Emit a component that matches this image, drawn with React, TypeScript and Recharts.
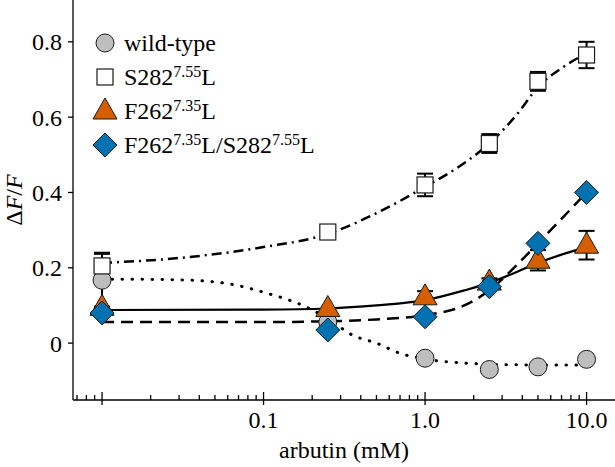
import React from 'react';
import { ComposedChart, Line, Scatter, XAxis, YAxis, ErrorBar, Legend } from 'recharts';

// measured points (arbutin dose, mM)
const doses = [0.01, 0.25, 1, 2.5, 5, 10];
const wildType = [0.167, 0.056, -0.04, -0.07, -0.063, -0.043];
const wildTypeErr = [0.07, 0, 0, 0, 0, 0];
const s282 = [0.205, 0.295, 0.42, 0.53, 0.695, 0.765];
const s282Err = [0.035, 0, 0.03, 0.025, 0.025, 0.035];
const f262 = [0.095, 0.092, 0.123, 0.162, 0.22, 0.26];
const f262Err = [0, 0, 0.015, 0.01, 0.027, 0.038];
const doubleMut = [0.08, 0.035, 0.07, 0.15, 0.265, 0.4];
const doubleMutErr = [0, 0, 0, 0, 0, 0];

// fitted curves
const wildTypeFitX = [0.01, 0.03, 0.06, 0.1, 0.19, 0.25, 0.36, 0.5, 0.7, 1, 1.75, 2.5, 5, 10];
const wildTypeFitY = [0.17, 0.168, 0.158, 0.135, 0.093, 0.065, 0.02, 0, -0.027, -0.042, -0.053, -0.056, -0.058, -0.058];
const s282FitX = [0.01, 0.03, 0.1, 0.25, 0.5, 1, 1.75, 2.5, 3.75, 5, 7, 10];
const s282FitY = [0.213, 0.226, 0.255, 0.29, 0.345, 0.415, 0.478, 0.53, 0.61, 0.68, 0.73, 0.77];
const f262FitX = [0.01, 0.1, 0.25, 0.5, 1, 1.75, 2.5, 3.75, 5, 7, 10];
const f262FitY = [0.088, 0.089, 0.092, 0.1, 0.114, 0.14, 0.16, 0.19, 0.213, 0.235, 0.255];
const doubleFitX = [0.01, 0.1, 0.25, 0.5, 1, 1.75, 2.5, 3.75, 5, 7, 10];
const doubleFitY = [0.056, 0.056, 0.058, 0.063, 0.074, 0.1, 0.14, 0.21, 0.265, 0.33, 0.4];

const majorTicks = [0.01, 0.1, 1, 10];
const majorTickLabels = ['', '0.1', '1.0', '10.0'];
const minorTicks = [
  0.007, 0.008, 0.009,
  0.02, 0.03, 0.04, 0.05, 0.06, 0.07, 0.08, 0.09,
  0.2, 0.3, 0.4, 0.5, 0.6, 0.7, 0.8, 0.9,
  2, 3, 4, 5, 6, 7, 8, 9,
];
const yTicks = [0, 0.2, 0.4, 0.6, 0.8];
const yTickLabels = ['0', '0.2', '0.4', '0.6', '0.8'];

const seriesLabels = [
  { parts: [['wild-type', '']] },
  { parts: [['S282', '7.55'], ['L', '']] },
  { parts: [['F262', '7.35'], ['L', '']] },
  { parts: [['F262', '7.35'], ['L/S282', '7.55'], ['L', '']] },
];

const FONT = '"Liberation Serif", "DejaVu Serif", serif';
const FS = 24;
const ORANGE = '#D55E00';
const BLUE = '#0072B2';
const GREY = '#BEBEBE';
const EDGE = '#1a1a1a';

const pts = (xs: number[], ys: number[], es?: number[]) =>
  xs.map((x, i) => ({ x, y: ys[i], err: es ? es[i] : 0 }));

const CircleMark = ({ cx, cy }: any) => (
  <circle cx={cx} cy={cy} r={9} fill={GREY} stroke={EDGE} strokeWidth={1} />
);
const SquareMark = ({ cx, cy }: any) => (
  <rect x={cx - 8} y={cy - 8} width={16} height={16} fill="#fff" stroke={EDGE} strokeWidth={1.2} />
);
const TriangleMark = ({ cx, cy }: any) => (
  <polygon
    points={`${cx},${cy - 13} ${cx - 12},${cy + 8} ${cx + 12},${cy + 8}`}
    fill={ORANGE}
    stroke={EDGE}
    strokeWidth={1}
  />
);
const DiamondMark = ({ cx, cy }: any) => (
  <polygon
    points={`${cx},${cy - 12} ${cx + 12},${cy} ${cx},${cy + 12} ${cx - 12},${cy}`}
    fill={BLUE}
    stroke={EDGE}
    strokeWidth={1}
  />
);

const markers = [CircleMark, SquareMark, TriangleMark, DiamondMark];

const XTick = (props: any) => {
  const { x, y, payload } = props;
  const idx = majorTicks.indexOf(payload.value);
  const major = idx >= 0;
  return (
    <g>
      <line x1={x} x2={x} y1={major ? y - 8 : y - 5} y2={major ? y + 5 : y} stroke="#000" strokeWidth={1.3} />
      {major && majorTickLabels[idx] && (
        <text x={x} y={y + 28} textAnchor="middle" fontFamily={FONT} fontSize={FS} fill="#000">
          {majorTickLabels[idx]}
        </text>
      )}
    </g>
  );
};

const YLabel = (props: any) => {
  const vb = props.viewBox || { x: 0, y: 0, width: 73, height: 400 };
  const cy = vb.y + vb.height / 2;
  return (
    <text x={22} y={cy} transform={`rotate(-90 22 ${cy})`} textAnchor="middle" fontFamily={FONT} fontSize={FS} fill="#000">
      <tspan>Δ</tspan>
      <tspan fontStyle="italic">F</tspan>
      <tspan>/</tspan>
      <tspan fontStyle="italic">F</tspan>
    </text>
  );
};

const XLabel = (props: any) => {
  const vb = props.viewBox || { x: 73, y: 400, width: 542, height: 67 };
  return (
    <text x={vb.x + vb.width / 2} y={458} textAnchor="middle" fontFamily={FONT} fontSize={FS} fill="#000">
      arbutin (mM)
    </text>
  );
};

const LegendBox = () => (
  <div style={{ position: 'absolute', left: 92, top: 26, fontFamily: FONT, fontSize: FS, color: '#000' }}>
    {seriesLabels.map((s, i) => {
      const Mark = markers[i];
      return (
        <div key={i} style={{ display: 'flex', alignItems: 'center', height: 34, whiteSpace: 'nowrap' }}>
          <svg width={26} height={30} style={{ marginRight: 6 }}>
            <Mark cx={13} cy={15} />
          </svg>
          <span>
            {s.parts.map(([base, sup], j) => (
              <React.Fragment key={j}>
                {base}
                {sup && <span style={{ fontSize: 16, position: 'relative', top: -8 }}>{sup}</span>}
              </React.Fragment>
            ))}
          </span>
        </div>
      );
    })}
  </div>
);

export default function App() {
  return (
    <div style={{ position: 'absolute', left: 0, top: 0, background: '#fff' }}>
      <ComposedChart width={615} height={467} margin={{ top: 0, right: 0, bottom: 0, left: 0 }}>
        <XAxis
          dataKey="x"
          type="number"
          scale="log"
          domain={[0.00661, 15]}
          allowDataOverflow
          ticks={[...minorTicks, ...majorTicks]}
          interval={0}
          tick={<XTick />}
          tickLine={false}
          tickSize={0}
          tickMargin={0}
          height={67}
          axisLine={{ stroke: '#000', strokeWidth: 1.3 }}
          label={<XLabel />}
        />
        <YAxis
          type="number"
          domain={[-0.151, 0.911]}
          allowDataOverflow
          ticks={yTicks}
          interval={0}
          width={73}
          tickSize={5}
          tickMargin={6}
          tickFormatter={(v: number) => yTickLabels[yTicks.indexOf(v)]}
          tick={{ fontFamily: FONT, fontSize: FS, fill: '#000' }}
          tickLine={{ stroke: '#000', strokeWidth: 1.3 }}
          axisLine={{ stroke: '#000', strokeWidth: 1.3 }}
          label={<YLabel />}
        />
        <Legend
          layout="vertical"
          align="center"
          verticalAlign="middle"
          content={() => <LegendBox />}
          wrapperStyle={{ left: 0, top: 0, width: 615, height: 0 }}
        />
        <Line data={pts(wildTypeFitX, wildTypeFitY)} dataKey="y" type="monotone" dot={false} stroke="#000" strokeWidth={3} strokeDasharray="0.5 9.5" strokeLinecap="round" isAnimationActive={false} legendType="none" />
        <Line data={pts(s282FitX, s282FitY)} dataKey="y" type="monotone" dot={false} stroke="#000" strokeWidth={2.5} strokeDasharray="10 5 2 5" isAnimationActive={false} legendType="none" />
        <Line data={pts(f262FitX, f262FitY)} dataKey="y" type="monotone" dot={false} stroke="#000" strokeWidth={2.2} isAnimationActive={false} legendType="none" />
        <Line data={pts(doubleFitX, doubleFitY)} dataKey="y" type="monotone" dot={false} stroke="#000" strokeWidth={2.5} strokeDasharray="12 7" isAnimationActive={false} legendType="none" />
        <Scatter name="wild-type" data={pts(doses, wildType, wildTypeErr)} dataKey="y" shape={CircleMark} isAnimationActive={false}>
          <ErrorBar dataKey="err" direction="y" width={8} stroke="#000" strokeWidth={2} />
        </Scatter>
        <Scatter name="S282L" data={pts(doses, s282, s282Err)} dataKey="y" shape={SquareMark} isAnimationActive={false}>
          <ErrorBar dataKey="err" direction="y" width={8} stroke="#000" strokeWidth={2} />
        </Scatter>
        <Scatter name="F262L" data={pts(doses, f262, f262Err)} dataKey="y" shape={TriangleMark} isAnimationActive={false}>
          <ErrorBar dataKey="err" direction="y" width={8} stroke="#000" strokeWidth={2} />
        </Scatter>
        <Scatter name="F262L/S282L" data={pts(doses, doubleMut, doubleMutErr)} dataKey="y" shape={DiamondMark} isAnimationActive={false}>
          <ErrorBar dataKey="err" direction="y" width={8} stroke="#000" strokeWidth={2} />
        </Scatter>
      </ComposedChart>
    </div>
  );
}
